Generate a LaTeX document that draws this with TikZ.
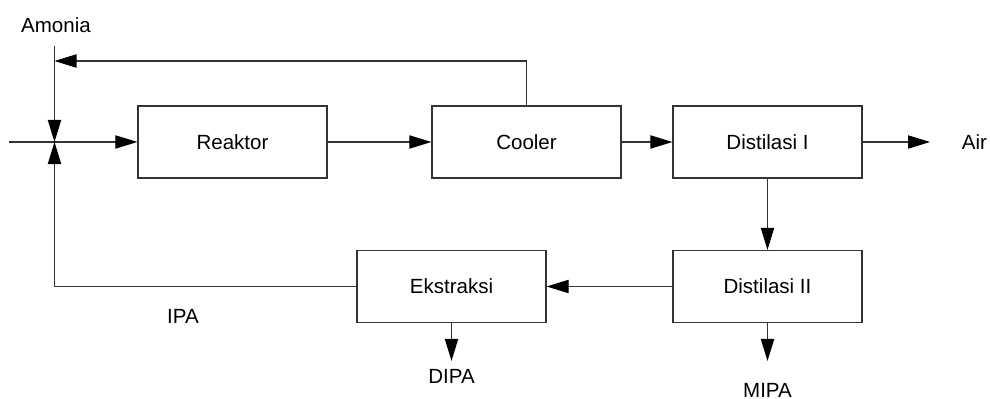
\documentclass[tikz,border=0pt]{standalone}
\usepackage{fontspec}
\setmainfont{Liberation Sans}
\usetikzlibrary{arrows.meta}
\tikzset{
    unit/.style = {draw = black!80, line width = 0.8pt, minimum width = 4.725cm, minimum height = 1.8cm, inner sep = 0pt},
    stream/.style = {draw = black!80, line width = 0.8pt, -{Triangle[length = 5.5mm, width = 3.3mm, color = black]}},
    tag/.style = {inner sep = 0pt}
}
\begin{document}
\begin{tikzpicture}[x = 0.025cm, y = -0.025cm, font = \fontsize{14.6}{17}\selectfont]
        \useasboundingbox (0, 0) rectangle (990, 399);
        \node [unit] (reaktor) at (232.5, 142) {Reaktor};
        \node [unit] (cooler) at (526.5, 142) {Cooler};
        \node [unit] (dist1) at (767.5, 142) {Distilasi I};
        \node [unit] (dist2) at (767.5, 286.5) {Distilasi II};
        \node [unit] (ekstraksi) at (451.5, 286.5) {Ekstraksi};
        \coordinate (feed) at (9, 142);
        \coordinate (mix) at (54.5, 142);
        \coordinate (top) at (54.5, 46);
        \coordinate (ret) at (54.5, 61);
        \coordinate (out) at (930, 142);
        \coordinate (dipaend) at (451.5, 361);
        \coordinate (mipaend) at (767.5, 361);
        \node [tag] (amonia) at (56, 25) {Amonia};
        \node [tag] (air) at (974.5, 142) {Air};
        \node [tag] (ipa) at (183, 316) {IPA};
        \node [tag] (dipa) at (451.5, 376) {DIPA};
        \node [tag] (mipa) at (767.5, 390.5) {MIPA};
        \draw [stream] (feed) -- (reaktor.west);
        \draw [stream] (top) -- (mix);
        \draw [stream] (cooler.north) |- (ret);
        \draw [stream] (ekstraksi.west) -| (mix);
        \draw [stream] (reaktor) -- (cooler);
        \draw [stream] (cooler) -- (dist1);
        \draw [stream] (dist1) -- (out);
        \draw [stream] (dist1) -- (dist2);
        \draw [stream] (dist2) -- (ekstraksi);
        \draw [stream] (dist2) -- (mipaend);
        \draw [stream] (ekstraksi) -- (dipaend);
    \end{tikzpicture}
\end{document}
